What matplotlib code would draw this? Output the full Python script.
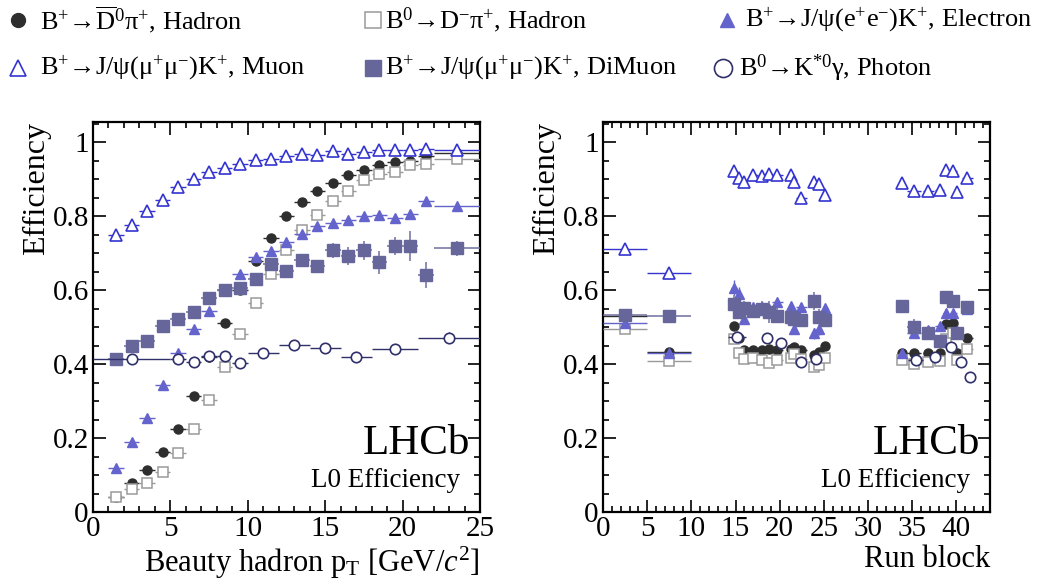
import matplotlib
matplotlib.use("Agg")
import matplotlib.pyplot as plt
from matplotlib.lines import Line2D
from matplotlib.ticker import MultipleLocator

plt.rcParams['font.family'] = ['Liberation Serif', 'DejaVu Serif']
plt.rcParams['mathtext.fontset'] = 'custom'
plt.rcParams['mathtext.rm'] = 'Liberation Serif'
plt.rcParams['mathtext.it'] = 'Liberation Serif:italic'
plt.rcParams['mathtext.default'] = 'rm'

# ---- left panel: efficiency vs beauty hadron pT ----
pt_x = [1.5, 2.5, 3.5, 4.5, 5.5, 6.5, 7.5, 8.5, 9.5, 10.5, 11.5, 12.5, 13.5,
        14.5, 15.5, 16.5, 17.5, 18.5, 19.5, 20.5, 21.5, 23.5]
pt_xerr = [0.5, 0.5, 0.5, 0.5, 0.5, 0.5, 0.5, 0.5, 0.5, 0.5, 0.5, 0.5, 0.5,
           0.5, 0.5, 0.5, 0.5, 0.5, 0.5, 0.5, 0.5, 1.5]
pt_had = [0.041, 0.079, 0.114, 0.161, 0.225, 0.313, 0.418, 0.510, 0.600, 0.679, 0.742,
          0.801, 0.839, 0.867, 0.890, 0.911, 0.924, 0.940, 0.946, 0.950, 0.964, 0.972]
pt_had0 = [0.040, 0.062, 0.079, 0.109, 0.159, 0.224, 0.302, 0.393, 0.482, 0.565, 0.643,
           0.708, 0.762, 0.803, 0.841, 0.868, 0.897, 0.914, 0.921, 0.938, 0.941, 0.956]
pt_ele = [0.118, 0.190, 0.253, 0.343, 0.429, 0.494, 0.544, 0.600, 0.643, 0.690, 0.706,
          0.731, 0.753, 0.774, 0.782, 0.789, 0.801, 0.803, 0.796, 0.805, 0.841, 0.828]
pt_mu = [0.749, 0.776, 0.814, 0.845, 0.879, 0.900, 0.920, 0.931, 0.942, 0.951, 0.956,
         0.963, 0.969, 0.967, 0.976, 0.969, 0.974, 0.978, 0.978, 0.980, 0.983, 0.980]
pt_dimu = [0.415, 0.448, 0.463, 0.503, 0.521, 0.541, 0.580, 0.600, 0.605, 0.629, 0.670,
           0.651, 0.683, 0.665, 0.708, 0.692, 0.708, 0.675, 0.719, 0.719, 0.640, 0.713]
pt_dimu_err = [0.005, 0.005, 0.005, 0.006, 0.006, 0.007, 0.008, 0.010, 0.010, 0.010, 0.012,
               0.015, 0.015, 0.015, 0.020, 0.025, 0.025, 0.030, 0.025, 0.040, 0.035, 0.020]
pt_small_err = [0.010, 0.005, 0.005, 0.004, 0.004, 0.004, 0.004, 0.004, 0.004, 0.004, 0.004,
                0.004, 0.004, 0.004, 0.005, 0.005, 0.005, 0.006, 0.006, 0.008, 0.010, 0.008]
pho_pt_x = [2.5, 5.5, 6.5, 7.5, 8.5, 9.5, 11, 13, 15, 17, 19.5, 23]
pho_pt_xerr = [2.5, 0.5, 0.5, 0.5, 0.5, 0.5, 1, 1, 1, 1, 1.5, 2]
pho_pt = [0.413, 0.415, 0.405, 0.422, 0.422, 0.402, 0.429, 0.451, 0.444, 0.418, 0.442, 0.471]
pho_pt_err = [0.004, 0.010, 0.008, 0.008, 0.008, 0.006, 0.006, 0.006, 0.006, 0.006, 0.008, 0.015]

# ---- right panel: efficiency vs run block ----
run_x = [2.5, 7.5, 14.83, 15.4, 15.93, 17.02, 18.0, 18.76, 19.74, 21.25, 21.62, 22.46,
         23.88, 24.41, 25.17, 33.84, 35.2, 36.83, 38.1, 38.79, 39.62, 40.1, 41.25]
run_xerr = [2.5, 2.5, 0.3, 0.25, 0.25, 0.5, 0.4, 0.35, 0.6, 0.2, 0.2, 0.6,
            0.25, 0.25, 0.3, 0.2, 0.8, 0.6, 0.5, 0.3, 0.4, 0.2, 0.6]
run_had = [0.529, 0.434, 0.504, 0.470, 0.438, 0.439, 0.439, 0.442, 0.439, 0.442, 0.445, 0.439,
           0.425, 0.434, 0.448, 0.431, 0.431, 0.431, 0.431, 0.508, 0.512, 0.430, 0.472]
run_had0 = [0.496, 0.409, 0.469, 0.431, 0.414, 0.416, 0.411, 0.404, 0.412, 0.416, 0.427, 0.415,
            0.393, 0.398, 0.417, 0.412, 0.400, 0.407, 0.409, 0.468, 0.485, 0.411, 0.441]
run_ele = [0.512, 0.431, 0.607, 0.589, 0.523, 0.555, 0.555, 0.550, 0.568, 0.558, 0.496, 0.555,
           0.483, 0.495, 0.553, 0.431, 0.483, 0.492, 0.504, 0.539, 0.538, 0.490, 0.549]
run_ele_err = [0.004, 0.004, 0.020, 0.020, 0.015, 0.012, 0.010, 0.012, 0.012, 0.010, 0.015, 0.010,
               0.015, 0.015, 0.010, 0.008, 0.012, 0.010, 0.010, 0.010, 0.010, 0.012, 0.010]
run_mu = [0.711, 0.646, 0.922, 0.904, 0.894, 0.912, 0.909, 0.915, 0.912, 0.912, 0.893, 0.850,
          0.893, 0.887, 0.858, 0.891, 0.868, 0.868, 0.870, 0.924, 0.922, 0.866, 0.904]
run_dimu = [0.532, 0.529, 0.562, 0.541, 0.551, 0.544, 0.550, 0.542, 0.531, 0.528, 0.522, 0.519,
            0.571, 0.528, 0.520, 0.558, 0.501, 0.485, 0.463, 0.582, 0.571, 0.484, 0.555]
run_dimu_err = [0.008, 0.008, 0.025, 0.020, 0.020, 0.020, 0.020, 0.030, 0.020, 0.020, 0.020, 0.015,
                0.025, 0.020, 0.020, 0.012, 0.020, 0.015, 0.015, 0.012, 0.012, 0.015, 0.010]
run_small_err = [0.004, 0.004, 0.006, 0.006, 0.005, 0.004, 0.004, 0.004, 0.004, 0.004, 0.004, 0.004,
                 0.006, 0.006, 0.005, 0.004, 0.004, 0.004, 0.004, 0.005, 0.005, 0.005, 0.004]
pho_run_x = [15.2, 18.6, 20.1, 22.36, 24.1, 35.4, 37.6, 39.36, 40.5, 41.5]
pho_run_xerr = [1.0, 0.3, 0.3, 0.4, 0.5, 0.85, 0.3, 0.2, 0.2, 0.2]
pho_run = [0.474, 0.470, 0.458, 0.407, 0.415, 0.412, 0.420, 0.445, 0.406, 0.366]
pho_run_err = [0.015, 0.012, 0.012, 0.012, 0.015, 0.010, 0.012, 0.012, 0.012, 0.012]

labels = [r'B$^{+}$→$\overline{D}^{0}\pi^{+}$, Hadron',
          r'B$^{0}$→D$^{-}\pi^{+}$, Hadron',
          r'B$^{+}$→J/$\psi(e^{+}e^{-})K^{+}$, Electron',
          r'B$^{+}$→J/$\psi(\mu^{+}\mu^{-})K^{+}$, Muon',
          r'B$^{+}$→J/$\psi(\mu^{+}\mu^{-})K^{+}$, DiMuon',
          r'B$^{0}$→K$^{*0}\gamma$, Photon']

c_had, c_had0, c_ele = '#2e2e2e', '#9a9a9a', '#6464cc'
c_mu, c_dimu, c_pho = '#3434d0', '#66669a', '#30306a'

styles = {
    'had':  dict(marker='o', ms=6.5, mfc=c_had, mec=c_had, color=c_had),
    'had0': dict(marker='s', ms=7, mfc='white', mec=c_had0, color=c_had0, mew=1.1),
    'ele':  dict(marker='^', ms=6.5, mfc=c_ele, mec=c_ele, color=c_ele),
    'mu':   dict(marker='^', ms=8, mfc='white', mec=c_mu, color=c_mu, mew=1.2),
    'dimu': dict(marker='s', ms=8.5, mfc=c_dimu, mec=c_dimu, color=c_dimu),
    'pho':  dict(marker='o', ms=7.5, mfc='white', mec=c_pho, color=c_pho, mew=1.2),
}


def series(ax, x, y, xerr, yerr, key, z):
    st = styles[key]
    ax.errorbar(x, y, xerr=xerr, yerr=yerr, fmt='none', ecolor=st['color'],
                elinewidth=1.3 if key == 'dimu' else 1.0, capsize=0, zorder=z,
                alpha=0.8 if key == 'dimu' else 1.0)
    ax.plot(x, y, ls='none', marker=st['marker'], ms=st['ms'], mfc=st['mfc'],
            mec=st['mec'], mew=st.get('mew', 1.0), zorder=z + 0.5)


fig = plt.figure(figsize=(10.42, 5.85), dpi=100)
ax1 = fig.add_axes([93 / 1042, 1 - 512 / 585, 387 / 1042, 390 / 585])
ax2 = fig.add_axes([603 / 1042, 1 - 512 / 585, 387 / 1042, 390 / 585])

series(ax1, pt_x, pt_had, pt_xerr, pt_small_err, 'had', 2)
series(ax1, pt_x, pt_had0, pt_xerr, pt_small_err, 'had0', 3)
series(ax1, pt_x, pt_ele, pt_xerr, pt_small_err, 'ele', 4)
series(ax1, pt_x, pt_mu, pt_xerr, pt_small_err, 'mu', 5)
series(ax1, pt_x, pt_dimu, pt_xerr, pt_dimu_err, 'dimu', 6)
series(ax1, pho_pt_x, pho_pt, pho_pt_xerr, pho_pt_err, 'pho', 7)

series(ax2, run_x, run_had, run_xerr, run_small_err, 'had', 2)
series(ax2, run_x, run_had0, run_xerr, run_small_err, 'had0', 3)
series(ax2, run_x, run_ele, run_xerr, run_ele_err, 'ele', 4)
series(ax2, run_x, run_mu, run_xerr, run_small_err, 'mu', 5)
series(ax2, run_x, run_dimu, run_xerr, run_dimu_err, 'dimu', 6)
series(ax2, pho_run_x, pho_run, pho_run_xerr, pho_run_err, 'pho', 7)

for ax, xmax in ((ax1, 25), (ax2, 43.8)):
    ax.set_xlim(0, xmax)
    ax.set_ylim(0, 1.055)
    ax.xaxis.set_major_locator(MultipleLocator(5))
    ax.xaxis.set_minor_locator(MultipleLocator(1))
    ax.yaxis.set_minor_locator(MultipleLocator(0.05))
    ax.set_yticks([0, 0.2, 0.4, 0.6, 0.8, 1.0])
    ax.set_yticklabels(['0', '0.2', '0.4', '0.6', '0.8', '1'])
    ax.tick_params(which='both', direction='in', top=True, right=True, labelsize=21, width=1.2)
    ax.tick_params(which='major', length=9, pad=3)
    ax.tick_params(which='minor', length=4.5)
    for sp in ax.spines.values():
        sp.set_linewidth(1.6)
    ax.set_ylabel('Efficiency', fontsize=23, loc='top')
    ax.yaxis.set_label_coords(-0.108, 1.0)
    ax.text(0.974, 0.15, 'LHCb', transform=ax.transAxes, ha='right', fontsize=31)
    ax.text(0.948, 0.065, 'L0 Efficiency', transform=ax.transAxes, ha='right', fontsize=19.5)

ax1.set_xlabel(r'Beauty hadron p$_{T}$ [GeV/$\mathit{c}^{2}$]', fontsize=22, loc='right', labelpad=2)
ax2.set_xlabel('Run block', fontsize=22, loc='right', labelpad=2)

# legend, two rows of three entries along the top
leg_keys = ['had', 'had0', 'ele', 'mu', 'dimu', 'pho']
leg_mx = [18, 373, 727, 18, 373, 723]
leg_tx = [40, 385, 745, 40, 385, 739]
leg_y = [20, 20, 20, 68, 68, 68]
leg_ms = [10, 11, 10, 11, 12, 13]
for key, lab, mx, tx, ly, lms in zip(leg_keys, labels, leg_mx, leg_tx, leg_y, leg_ms):
    st = styles[key]
    fig.add_artist(Line2D([mx / 1042], [1 - ly / 585], transform=fig.transFigure, ls='none',
                          marker=st['marker'], ms=lms, mfc=st['mfc'], mec=st['mec'],
                          mew=st.get('mew', 1.0)))
    fig.text(tx / 1042, 1 - ly / 585, lab, fontsize=19, va='center', ha='left')

fig.savefig('out.png', dpi=100)
